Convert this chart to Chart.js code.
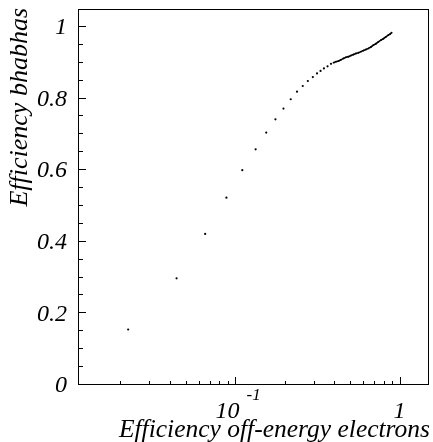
<!DOCTYPE html>
<html>
<head>
<meta charset="utf-8">
<script src="https://cdn.jsdelivr.net/npm/chart.js@4/dist/chart.umd.min.js"></script>
<style>
  html, body { margin: 0; padding: 0; background: #fff; }
  canvas { display: block; }
</style>
</head>
<body>
<canvas id="effChart" width="433" height="442"></canvas>
<script>
// isolated scan points (low efficiency end)
const sparseX = [0.0224, 0.0441, 0.0658, 0.0886, 0.1107, 0.1334, 0.1547, 0.176, 0.197, 0.218,
                 0.238, 0.258, 0.277, 0.297, 0.315, 0.331, 0.347, 0.365, 0.383];
const sparseY = [0.155, 0.298, 0.422, 0.523, 0.600, 0.658, 0.705, 0.742, 0.772, 0.798,
                 0.819, 0.835, 0.849, 0.860, 0.870, 0.877, 0.884, 0.890, 0.897];

// dense part of the scan, reads as a continuous line
const denseX = [0.397, 0.41, 0.426, 0.44, 0.456, 0.472, 0.489, 0.506, 0.525, 0.543, 0.563, 0.583,
                0.603, 0.625, 0.647, 0.67, 0.693, 0.718, 0.743, 0.77, 0.797, 0.825, 0.854, 0.875, 0.895];
const denseY = [0.900, 0.903, 0.905, 0.908, 0.912, 0.915, 0.917, 0.920, 0.923, 0.926, 0.928, 0.931,
                0.934, 0.937, 0.940, 0.944, 0.949, 0.953, 0.958, 0.963, 0.967, 0.972, 0.977, 0.980, 0.984];

const yMajor = [0, 0.2, 0.4, 0.6, 0.8, 1];
const yMajorLabels = ['0', '0.2', '0.4', '0.6', '0.8', '1'];
const yMinor = [0.05, 0.1, 0.15, 0.25, 0.3, 0.35, 0.45, 0.5, 0.55, 0.65, 0.7, 0.75, 0.85, 0.9, 0.95];
const xMajor = [0.1, 1];
const xMinor = [0.02, 0.03, 0.04, 0.05, 0.06, 0.07, 0.08, 0.09, 0.2, 0.3, 0.4, 0.5, 0.6, 0.7, 0.8, 0.9];

const xTitle = 'Efficiency off-energy electrons';
const yTitle = 'Efficiency bhabhas';

const FONT = '"Liberation Serif", "Times New Roman", serif';

const toPts = (xs, ys) => xs.map((v, i) => ({ x: v, y: ys[i] }));

// ROOT-like frame, inward ticks and labels
const rootFrame = {
  id: 'rootFrame',
  afterDraw(chart) {
    const { ctx, chartArea: a, scales: { x, y } } = chart;
    ctx.save();
    ctx.strokeStyle = '#000';
    ctx.lineWidth = 1;
    ctx.strokeRect(a.left + 0.5, a.top + 0.5, a.right - a.left - 1, a.bottom - a.top - 1);

    const seg = (x1, y1, x2, y2) => {
      ctx.beginPath(); ctx.moveTo(x1, y1); ctx.lineTo(x2, y2); ctx.stroke();
    };
    yMajor.forEach(v => {
      const p = Math.round(y.getPixelForValue(v)) - 0.5;
      seg(a.left, p, a.left + 8, p);
    });
    yMinor.forEach(v => {
      const p = Math.round(y.getPixelForValue(v)) - 0.5;
      seg(a.left, p, a.left + 5, p);
    });
    xMajor.forEach(v => {
      const p = Math.round(x.getPixelForValue(v)) + 0.5;
      seg(p, a.bottom, p, a.bottom - 8);
    });
    xMinor.forEach(v => {
      const p = Math.round(x.getPixelForValue(v)) + 0.5;
      seg(p, a.bottom, p, a.bottom - 4);
    });

    ctx.fillStyle = '#000';
    // y tick labels
    ctx.font = 'italic 24px ' + FONT;
    ctx.textAlign = 'right';
    ctx.textBaseline = 'middle';
    yMajor.forEach((v, i) => {
      ctx.fillText(yMajorLabels[i], 67, y.getPixelForValue(v) + 1);
    });

    // x tick labels: 10^-1 and 1
    ctx.textBaseline = 'alphabetic';
    ctx.textAlign = 'left';
    const base = 418;
    const p1 = x.getPixelForValue(xMajor[0]);
    ctx.font = 'italic 24px ' + FONT;
    const w10 = ctx.measureText('10').width;
    ctx.font = 'italic 17px ' + FONT;
    const wExp = ctx.measureText('-1').width;
    const gap = 7;
    const start = p1 - (w10 + gap + wExp) / 2 + 3;
    ctx.font = 'italic 24px ' + FONT;
    ctx.fillText('10', start, base);
    ctx.font = 'italic 17px ' + FONT;
    ctx.fillText('-1', start + w10 + gap, base - 18);
    ctx.font = 'italic 24px ' + FONT;
    ctx.textAlign = 'center';
    ctx.fillText('1', x.getPixelForValue(xMajor[1]), base);

    // axis titles
    ctx.font = 'italic 25.5px ' + FONT;
    ctx.textAlign = 'right';
    ctx.fillText(xTitle, 430, 437);
    ctx.save();
    ctx.translate(27, 8);
    ctx.rotate(-Math.PI / 2);
    ctx.font = 'italic 26px ' + FONT;
    ctx.textAlign = 'right';
    ctx.fillText(yTitle, 0, 0);
    ctx.restore();
    ctx.restore();
  }
};

const ctx = document.getElementById('effChart').getContext('2d');
const effChart = new Chart(ctx, {
  type: 'scatter',
  data: {
    datasets: [{
      data: toPts(sparseX, sparseY),
      backgroundColor: '#000',
      borderColor: '#000',
      pointRadius: 1.1,
      pointBorderWidth: 0
    }, {
      data: toPts(denseX, denseY),
      showLine: true,
      borderColor: '#000',
      borderWidth: 1.6,
      backgroundColor: '#000',
      pointRadius: 0.9,
      pointBorderWidth: 0,
      tension: 0
    }]
  },
  options: {
    responsive: false,
    animation: false,
    layout: { padding: { left: 78, right: 2, top: 9, bottom: 57 } },
    plugins: {
      legend: { display: false },
      tooltip: { enabled: false }
    },
    scales: {
      x: { type: 'logarithmic', min: 0.0111, max: 1.51, display: false },
      y: { type: 'linear', min: 0, max: 1.05, display: false }
    }
  },
  plugins: [rootFrame]
});
</script>
</body>
</html>
